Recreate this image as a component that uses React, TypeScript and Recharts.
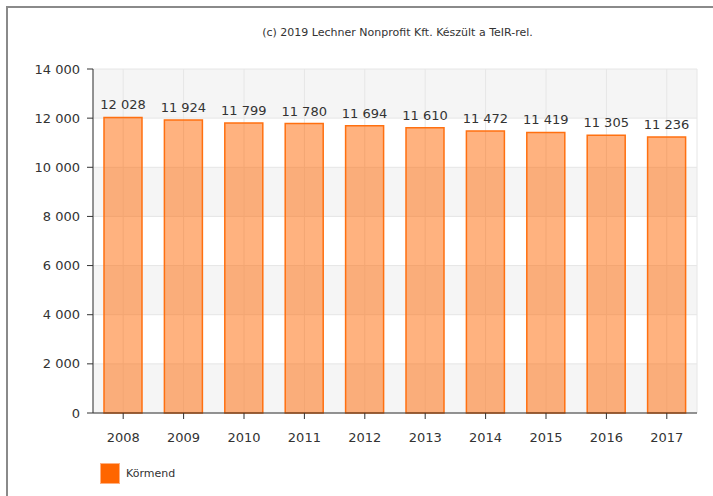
import { BarChart, Bar, XAxis, YAxis, CartesianGrid, LabelList } from 'recharts';

const years = ['2008', '2009', '2010', '2011', '2012', '2013', '2014', '2015', '2016', '2017'];
const population = [12028, 11924, 11799, 11780, 11694, 11610, 11472, 11419, 11305, 11236];
const yTicks = [0, 2000, 4000, 6000, 8000, 10000, 12000, 14000];
const seriesName = 'Körmend';
const credit = '(c) 2019 Lechner Nonprofit Kft. Készült a TeIR-rel.';

const data = years.map((y, i) => ({ year: y, value: population[i] }));

const fmt = (n: number) => String(n).replace(/\B(?=(\d{3})+(?!\d))/g, ' ');

const font = '"DejaVu Sans", Verdana, sans-serif';

// value above each bar, kept on one line
const TopLabel = (props: any) => {
   const { x, y, width, value } = props;
   return (
      <text x={Number(x) + Number(width) / 2} y={Number(y) - 8} textAnchor="middle" fill="#333" fontSize={13} fontFamily={font}>
         {fmt(Number(value))}
      </text>
   );
};

export default function App() {
   return (
      <div style={{ position: 'absolute', left: 0, top: 0, width: 713, height: 496, background: '#fff', overflow: 'hidden' }}>
         {/* frame */}
         <div style={{ position: 'absolute', left: 6, top: 6, width: 720, height: 500, borderTop: '2px solid #8a8a8a', borderLeft: '2px solid #8a8a8a' }} />
         <div style={{ position: 'absolute', top: 26, left: 0, width: 795, textAlign: 'center', fontFamily: font, fontSize: 11, color: '#333' }}>
            {credit}
         </div>
         <BarChart
            width={713}
            height={496}
            data={data}
            margin={{ top: 69, right: 16, left: 33, bottom: 53 }}
            style={{ position: 'absolute', left: 0, top: 0 }}
         >
            <CartesianGrid stroke="#e6e6e6" horizontalFill={['#f5f5f5', '#ffffff']} />
            <XAxis
               dataKey="year"
               height={30}
               tickSize={6}
               tickMargin={14}
               axisLine={{ stroke: '#333' }}
               tickLine={{ stroke: '#333' }}
               tick={{ fill: '#333', fontSize: 13, fontFamily: font }}
            />
            <YAxis
               width={60}
               domain={[0, 14000]}
               ticks={yTicks}
               tickFormatter={fmt}
               tickSize={6}
               tickMargin={7}
               axisLine={{ stroke: '#333' }}
               tickLine={{ stroke: '#333' }}
               tick={{ fill: '#333', fontSize: 13, fontFamily: font }}
            />
            <Bar
               dataKey="value"
               name={seriesName}
               barSize={38}
               fill="#FF6600"
               fillOpacity={0.5}
               stroke="#FF7010"
               strokeWidth={1.5}
               isAnimationActive={false}
            >
               <LabelList dataKey="value" content={TopLabel} />
            </Bar>
         </BarChart>
         {/* legend */}
         <div style={{ position: 'absolute', left: 100, top: 463, display: 'flex', alignItems: 'center', fontFamily: font, fontSize: 11, color: '#333' }}>
            <span style={{ width: 20, height: 21, background: '#FF6600', border: '1px solid #ffb080', boxSizing: 'border-box', marginRight: 6 }} />
            {seriesName}
         </div>
      </div>
   );
}
